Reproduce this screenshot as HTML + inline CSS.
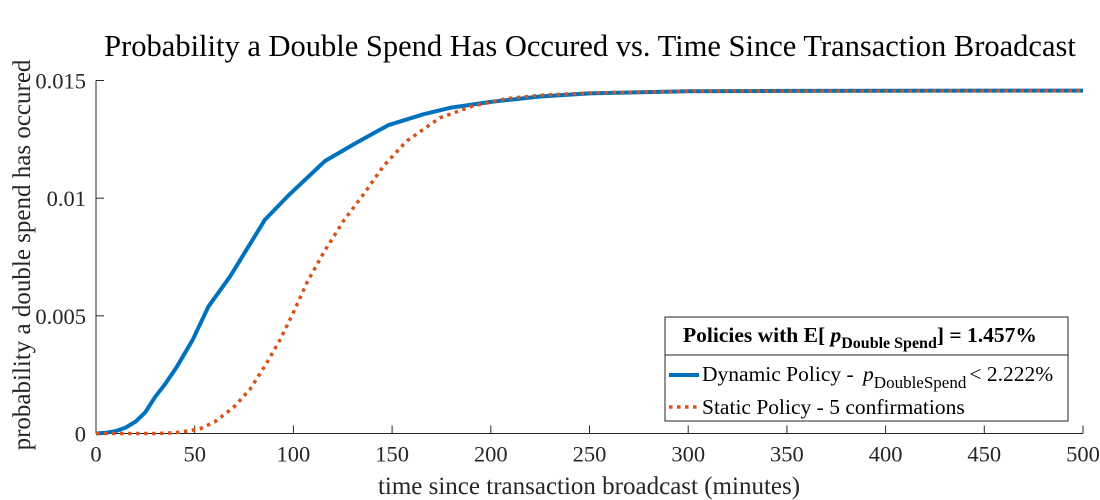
<!DOCTYPE html>
<html><head><meta charset="utf-8"><style>
body{margin:0;background:#fff}
svg{display:block;font-family:"Liberation Serif",serif}
</style></head><body>
<svg id="c" width="1100" height="500"></svg>
<script>
const xTicks=[0,50,100,150,200,250,300,350,400,450,500];
const yTicks=[0,0.005,0.01,0.015];
const yTickLabels=["0","0.005","0.01","0.015"];
const dynX=[0,5,10,15,20,25,30,35,41,49,57,68,85.6,98,116,132,148,166,180,200,225,250,300,350,500];
const dynY=[0,0.00003,0.0001,0.00025,0.0005,0.0009,0.00156,0.0021,0.00284,0.00398,0.0054,0.00668,0.00909,0.01016,0.01158,0.01236,0.0131,0.01357,0.01385,0.01409,0.01432,0.01445,0.01454,0.01456,0.01457];
const statX=[0,30,40,46,52.7,60.3,69.6,78,86.5,93.2,100,106.8,115.2,125.3,135.5,145.6,157.4,174.3,191.2,208,225,250,300,500];
const statY=[0,0,0.00003,0.0001,0.0002,0.0005,0.0011,0.00188,0.003,0.00398,0.00514,0.0064,0.00767,0.00902,0.01016,0.01136,0.01243,0.01342,0.01392,0.01423,0.01437,0.01447,0.01455,0.01457];
const X0=96,X1=1083,Y0=433.5,Y1=80.5;
const sx=v=>X0+(v-0)/500*(X1-X0);
const sy=v=>Y0-(v/0.015)*(Y0-Y1);
const svg=document.getElementById('c');
const NS='http://www.w3.org/2000/svg';
function mk(t,a,txt){const e=document.createElementNS(NS,t);for(const k in a)e.setAttribute(k,a[k]);if(txt!=null)e.textContent=txt;svg.appendChild(e);return e;}
let e;
e=mk('text',{x:590,y:56,'text-anchor':'middle','font-size':30.5,fill:'#000'},'Probability a Double Spend Has Occured vs. Time Since Transaction Broadcast');


e=mk('line',{x1:X0,y1:Y0,x2:X1,y2:Y0,stroke:'#262626','stroke-width':1});


e=mk('line',{x1:X0,y1:Y0,x2:X0,y2:Y1,stroke:'#262626','stroke-width':1});


xTicks.forEach(t=>{
 e=mk('line',{x1:sx(t),y1:Y0,x2:sx(t),y2:Y0-8,stroke:'#262626'});
 
 
 e=mk('text',{x:sx(t),y:Y0+28,'text-anchor':'middle','font-size':22.5,fill:'#262626'},String(t));
 
 
});
yTicks.forEach((t,i)=>{
 e=mk('line',{x1:X0,y1:sy(t),x2:X0+8,y2:sy(t),stroke:'#262626'});
 
 
 e=mk('text',{x:X0-10,y:sy(t)+8,'text-anchor':'end','font-size':22.5,fill:'#262626'},yTickLabels[i]);
 
 
});
e=mk('text',{x:589,y:494,'text-anchor':'middle','font-size':25,fill:'#262626'},'time since transaction broadcast (minutes)');


e=mk('text',{x:0,y:0,'text-anchor':'middle','font-size':25,fill:'#262626',transform:'translate(30,255) rotate(-90)'},'probability a double spend has occured');


function path(xs,ys){return xs.map((x,i)=>(i?'L':'M')+sx(x).toFixed(1)+','+sy(ys[i]).toFixed(1)).join('');}
e=mk('path',{d:path(dynX,dynY),fill:'none',stroke:'#0072BD','stroke-width':4,'stroke-linejoin':'round'});


e=mk('path',{d:path(statX,statY),fill:'none',stroke:'#D95319','stroke-width':3.5,'stroke-dasharray':'3.5 4.5'});


// legend
e=mk('rect',{x:665,y:317,width:403,height:104,fill:'#fff',stroke:'#262626','stroke-width':1});


e=mk('line',{x1:665,y1:355,x2:1068,y2:355,stroke:'#262626'});


e=mk('text',{x:683,y:342,'font-size':21.5,'font-weight':'bold',fill:'#000'});
e.innerHTML='Policies with E[ <tspan font-style="italic">p</tspan><tspan font-size="16" dy="6">Double Spend</tspan><tspan dy="-6">] = 1.457%</tspan>';


e=mk('line',{x1:669,y1:375,x2:699,y2:375,stroke:'#0072BD','stroke-width':4});


e=mk('text',{x:702,y:381,'font-size':21.5,fill:'#000'});
e.innerHTML='Dynamic Policy -  <tspan font-style="italic" dx="4">p</tspan><tspan font-size="17" dy="7">DoubleSpend</tspan><tspan dy="-7" dx="3">&lt; 2.222%</tspan>';


e=mk('line',{x1:669,y1:407,x2:699,y2:407,stroke:'#D95319','stroke-width':3.5,'stroke-dasharray':'3.5 4.5'});


e=mk('text',{x:702,y:414,'font-size':21.5,fill:'#000'},'Static Policy - 5 confirmations');


</script>
</body></html>
